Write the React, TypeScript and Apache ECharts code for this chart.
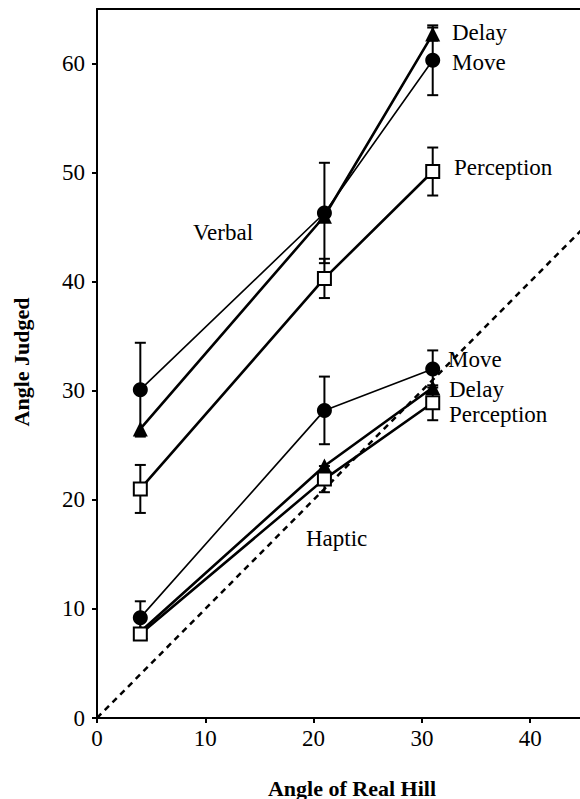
import React, { useEffect, useRef } from "react";
import * as echarts from "echarts";

// ---- data ----
const xValues = [4, 21, 31];
const verbalMove = [30.1, 46.3, 60.3];
const verbalMoveErr = [4.3, 4.6, 3.2];
const verbalDelay = [26.5, 46.0, 62.7];
const verbalDelayErr = [null, null, 0.6];
const verbalPerception = [21.0, 40.3, 50.1];
const verbalPerceptionErr = [2.2, 1.8, 2.2];
const hapticMove = [9.2, 28.2, 32.0];
const hapticMoveErr = [1.5, 3.1, 1.7];
const hapticDelay = [7.9, 23.1, 30.3];
const hapticDelayErr = [null, null, null];
const hapticPerception = [7.7, 21.9, 28.9];
const hapticPerceptionErr = [null, 1.2, 1.6];
const identityX = [0, 45];
const xAxisTitle = "Angle of Real Hill";
const yAxisTitle = "Angle Judged";

const FONT = "Liberation Serif";

function pts(ys: number[]) {
  return xValues.map((x, i) => [x, ys[i]]);
}
function errs(ys: number[], es: (number | null)[]) {
  const out: number[][] = [];
  xValues.forEach((x, i) => {
    const e = es[i];
    if (e != null) out.push([x, ys[i] - e, ys[i] + e]);
  });
  return out;
}

export default function App() {
  const ref = useRef<HTMLDivElement>(null);
  useEffect(() => {
    if (!ref.current) return;
    const chart = echarts.init(ref.current, null, { renderer: "svg" });

    const errData = [
      ...errs(verbalMove, verbalMoveErr),
      ...errs(verbalDelay, verbalDelayErr),
      ...errs(verbalPerception, verbalPerceptionErr),
      ...errs(hapticMove, hapticMoveErr),
      ...errs(hapticDelay, hapticDelayErr),
      ...errs(hapticPerception, hapticPerceptionErr),
    ];

    const lineSeries = (
      name: string,
      ys: number[],
      symbol: string,
      size: number,
      width: number,
      open: boolean
    ) => ({
      type: "line",
      name,
      data: pts(ys),
      symbol,
      symbolSize: size,
      z: 3,
      lineStyle: { color: "#000", width },
      itemStyle: open
        ? { color: "#fff", borderColor: "#000", borderWidth: 2 }
        : { color: "#000" },
      emphasis: { disabled: true },
    });

    const labelStyle = (text: string, x: number, y: number) => ({
      type: "text",
      x,
      y,
      style: {
        text,
        fontFamily: FONT,
        fontSize: 23,
        fill: "#000",
        verticalAlign: "middle",
        align: "left",
      },
      z: 10,
    });

    chart.setOption({
      animation: false,
      backgroundColor: "#fff",
      grid: { left: 97, right: 0, top: 9, bottom: 81, containLabel: false },
      xAxis: [
        {
          type: "value",
          min: 0,
          max: 44.6,
          interval: 10,
          axisLine: { show: true, lineStyle: { color: "#000", width: 2 } },
          axisTick: { show: true, length: 5, lineStyle: { color: "#000", width: 2 } },
          axisLabel: {
            color: "#000",
            fontFamily: FONT,
            fontSize: 23,
            margin: 9,
            showMaxLabel: false,
          },
          splitLine: { show: false },
        },
        {
          type: "value",
          position: "top",
          min: 0,
          max: 44.6,
          axisLine: { show: true, onZero: false, lineStyle: { color: "#000", width: 2 } },
          axisTick: { show: false },
          axisLabel: { show: false },
          splitLine: { show: false },
        },
      ],
      yAxis: {
        type: "value",
        min: 0,
        max: 65,
        interval: 10,
        axisLine: { show: true, lineStyle: { color: "#000", width: 2 } },
        axisTick: { show: true, length: 5, lineStyle: { color: "#000", width: 2 } },
        axisLabel: {
          color: "#000",
          fontFamily: FONT,
          fontSize: 23,
          margin: 12,
          showMaxLabel: false,
        },
        splitLine: { show: false },
      },
      series: [
        {
          type: "line",
          name: "identity",
          data: identityX.map((v) => [v, v]),
          symbol: "none",
          z: 1,
          lineStyle: { color: "#000", width: 2.5, type: [6, 5] },
          emphasis: { disabled: true },
        },
        {
          type: "custom",
          name: "errors",
          z: 2,
          data: errData,
          renderItem: (params: any, api: any) => {
            const x = api.value(0);
            const lo = api.coord([x, api.value(1)]);
            const hi = api.coord([x, api.value(2)]);
            const w = 5.5;
            const st = { stroke: "#000", lineWidth: 2 };
            return {
              type: "group",
              children: [
                { type: "line", shape: { x1: lo[0], y1: lo[1], x2: hi[0], y2: hi[1] }, style: st },
                { type: "line", shape: { x1: lo[0] - w, y1: lo[1], x2: lo[0] + w, y2: lo[1] }, style: st },
                { type: "line", shape: { x1: hi[0] - w, y1: hi[1], x2: hi[0] + w, y2: hi[1] }, style: st },
              ],
            };
          },
        },
        lineSeries("Verbal Move", verbalMove, "circle", 15, 1.6, false),
        lineSeries("Verbal Delay", verbalDelay, "triangle", 15, 2.6, false),
        lineSeries("Verbal Perception", verbalPerception, "rect", 13, 2.6, true),
        lineSeries("Haptic Move", hapticMove, "circle", 15, 1.6, false),
        lineSeries("Haptic Delay", hapticDelay, "triangle", 15, 2.6, false),
        lineSeries("Haptic Perception", hapticPerception, "rect", 13, 2.6, true),
      ],
      graphic: [
        labelStyle("Delay", 452, 32),
        labelStyle("Move", 452, 62),
        labelStyle("Perception", 454, 167),
        labelStyle("Verbal", 193, 232),
        labelStyle("Move", 448, 359),
        labelStyle("Delay", 449, 389),
        labelStyle("Perception", 449, 414),
        labelStyle("Haptic", 306, 538),
        {
          type: "text",
          x: 352,
          y: 788,
          style: {
            text: xAxisTitle,
            fontFamily: FONT,
            fontSize: 22,
            fontWeight: "bold",
            fill: "#000",
            align: "center",
            verticalAlign: "middle",
          },
        },
        {
          type: "text",
          x: 21,
          y: 362,
          rotation: Math.PI / 2,
          style: {
            text: yAxisTitle,
            fontFamily: FONT,
            fontSize: 22,
            fontWeight: "bold",
            fill: "#000",
            align: "center",
            verticalAlign: "middle",
          },
        },
      ],
    });
    return () => chart.dispose();
  }, []);

  return (
    <div
      ref={ref}
      style={{ position: "fixed", left: 0, top: 0, width: 580, height: 799, background: "#fff" }}
    />
  );
}
